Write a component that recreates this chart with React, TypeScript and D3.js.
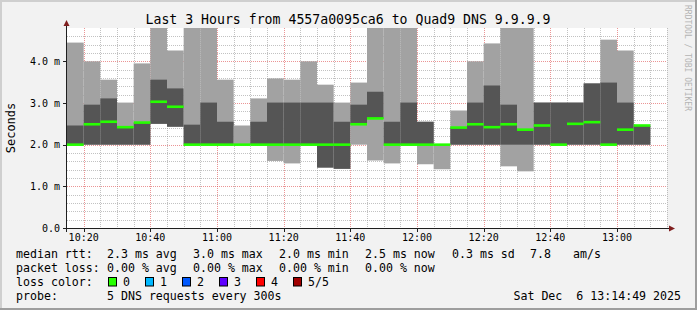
import React from 'react';
import * as d3 from 'd3';

// 5-minute bins, start times
const binStarts = [
  "10:15","10:20","10:25","10:30","10:35","10:40","10:45","10:50","10:55",
  "11:00","11:05","11:10","11:15","11:20","11:25","11:30","11:35","11:40",
  "11:45","11:50","11:55","12:00","12:05","12:10","12:15","12:20","12:25",
  "12:30","12:35","12:40","12:45","12:50","12:55","13:00","13:05"
];
// sorted pings (ms): fastest, 2nd, median, 4th, slowest
const pingMin = [2.0,2.0,2.0,2.0,2.0,2.50,2.43,2.0,2.0, 2.0,2.0,2.0,1.61,1.55,2.0,1.45,1.42,2.0, 1.62,1.55,2.0,1.53,1.41,2.0,2.0,2.0,1.48, 1.36,2.0,2.0,2.0,2.0,2.0,2.0,2.0];
const pingLow = [2.0,2.0,2.0,2.0,2.0,2.50,2.43,2.0,2.0, 2.0,2.0,2.0,2.0,2.0,2.0,1.45,1.42,2.49, 2.62,2.0,2.0,2.0,2.0,2.0,2.0,2.0,2.0, 2.0,2.0,2.0,2.0,2.0,2.0,2.0,2.0];
const pingMedian = [2.0,2.49,2.55,2.42,2.53,3.03,2.91,2.0,2.0, 2.0,2.0,2.0,2.0,2.0,2.0,2.0,2.0,2.49, 2.63,2.0,2.0,2.0,2.0,2.41,2.49,2.42,2.49, 2.36,2.46,2.0,2.50,2.54,2.0,2.36,2.46];
const pingHigh = [2.46,2.96,3.11,2.40,2.53,3.56,3.35,2.48,3.01, 2.55,2.0,2.55,3.01,3.01,3.01,3.01,2.55,2.96, 3.27,2.55,3.01,2.55,2.0,2.41,3.01,3.42,2.96, 2.36,3.01,3.01,3.01,3.47,3.49,3.01,2.46];
const pingMax = [4.45,4.0,3.56,3.01,3.95,5.2,4.26,5.2,5.2, 3.56,2.46,3.11,3.59,3.56,4.0,3.44,3.01,3.49, 5.2,5.2,5.2,2.55,2.0,2.82,4.0,4.43,5.2, 5.2,3.01,3.01,3.01,3.47,4.52,4.26,2.46];

const yTickValues = [0, 1, 2, 3, 4];
const yTickLabels = ["0.0", "1.0 m", "2.0 m", "3.0 m", "4.0 m"];
const xTickLabels = ["10:20","10:40","11:00","11:20","11:40","12:00","12:20","12:40","13:00"];

const titleText = "Last 3 Hours from 4557a0095ca6 to Quad9 DNS 9.9.9.9";
const yAxisTitle = "Seconds";
const rttHeader = "median rtt:";
const rttItems = ["2.3 ms avg", "3.0 ms max", "2.0 ms min", "2.5 ms now", "0.3 ms sd", "7.8", "am/s"];
const lossHeader = "packet loss:";
const lossItems = ["0.00 % avg", "0.00 % max", "0.00 % min", "0.00 % now"];
const colorHeader = "loss color:";
const lossLabels = ["0", "1", "2", "3", "4", "5/5"];
const lossColors = ["#26ff00", "#00b8ff", "#0059ff", "#5e00ff", "#ff0000", "#a00000"];
const probeHeader = "probe:";
const probeText = "5 DNS requests every 300s";
const dateLabel = "Sat Dec  6 13:14:49 2025";
const watermark = "RRDTOOL / TOBI OETIKER";

const W = 697, H = 310;
const MONO = "'DejaVu Sans Mono', monospace";
const rttX = [107, 193, 279, 365, 452, 530, 573];

const parseT = (s: string) => {
  const [h, m] = s.split(":").map(Number);
  return new Date(2025, 11, 6, h, m, 0);
};

export default function App() {
  const t0 = parseT("10:15");
  const t1 = parseT("13:15");
  const x = d3.scaleTime().domain([t0, t1]).range([67, 667]);
  const y = d3.scaleLinear().domain([0, 4.8]).range([228, 28]);

  const minorX = d3.timeMinute.every(5)!.range(d3.timeMinute.offset(t0, 5), d3.timeMinute.offset(t1, 1));
  const majorX = xTickLabels.map(parseT);
  const minorY = d3.range(1, 24).map((i) => i * 0.2).filter((v) => Math.abs(v - Math.round(v)) > 1e-6);
  const crisp = (v: number) => Math.round(v) + 0.5;

  const binW = (t: Date) => x(d3.timeMinute.offset(t, 5)) - x(t);
  const pre = { whiteSpace: 'pre' as const };

  return (
    <svg width={W} height={H} style={{ position: 'absolute', left: 0, top: 0 }} xmlns="http://www.w3.org/2000/svg">
      <defs>
        <clipPath id="plot">
          <rect x={67} y={28} width={600} height={200} />
        </clipPath>
      </defs>
      <rect x={0} y={0} width={W} height={H} fill="#f2f2f2" />
      {/* shade frame */}
      <rect x={0} y={0} width={W} height={2} fill="#cfcfcf" />
      <rect x={0} y={0} width={2} height={H} fill="#cfcfcf" />
      <rect x={0} y={H - 2} width={W} height={2} fill="#9e9e9e" />
      <rect x={W - 2} y={0} width={2} height={H} fill="#9e9e9e" />

      {/* canvas */}
      <rect x={67} y={28} width={600} height={200} fill="#ffffff" />

      {/* minor grid */}
      <g stroke="rgba(143,143,143,0.55)" strokeWidth={1} strokeDasharray="1,1">
        {minorX.filter((t) => t.getMinutes() % 20 !== 0).map((t, i) => (
          <line key={'mx' + i} x1={crisp(x(t))} x2={crisp(x(t))} y1={28} y2={228} />
        ))}
        {minorY.map((v, i) => (
          <line key={'my' + i} x1={67} x2={667} y1={crisp(y(v))} y2={crisp(y(v))} />
        ))}
      </g>
      {/* major grid */}
      <g stroke="rgba(222,79,79,0.6)" strokeWidth={1} strokeDasharray="1,1">
        {majorX.map((t, i) => (
          <line key={'Mx' + i} x1={crisp(x(t))} x2={crisp(x(t))} y1={28} y2={228} />
        ))}
        {yTickValues.filter((v) => v > 0).map((v, i) => (
          <line key={'My' + i} x1={67} x2={667} y1={crisp(y(v))} y2={crisp(y(v))} />
        ))}
      </g>

      {/* smoke */}
      <g clipPath="url(#plot)">
        {binStarts.map((s, i) => {
          const t = parseT(s);
          const bx = x(t);
          const w = binW(t);
          return (
            <g key={'b' + i}>
              {pingMax[i] > pingMin[i] && (
                <rect x={bx} y={y(pingMax[i])} width={w} height={y(pingMin[i]) - y(pingMax[i])} fill="#a2a2a2" />
              )}
              {pingHigh[i] > pingLow[i] && (
                <rect x={bx} y={y(pingHigh[i])} width={w} height={y(pingLow[i]) - y(pingHigh[i])} fill="#555555" />
              )}
            </g>
          );
        })}
        {binStarts.map((s, i) => {
          const t = parseT(s);
          return (
            <rect key={'m' + i} x={x(t)} y={y(pingMedian[i]) - 1.3} width={binW(t)} height={2.6} fill={lossColors[0]} />
          );
        })}
      </g>

      {/* axes */}
      <g stroke="#1f1f1f" strokeWidth={1}>
        <line x1={63} x2={670} y1={228.5} y2={228.5} />
        <line x1={66.5} x2={66.5} y1={232} y2={24} />
        {majorX.map((t, i) => (
          <line key={'xt' + i} x1={crisp(x(t))} x2={crisp(x(t))} y1={228} y2={232} />
        ))}
        {yTickValues.map((v, i) => (
          <line key={'yt' + i} x1={63} x2={67} y1={crisp(y(v))} y2={crisp(y(v))} />
        ))}
      </g>
      <path d="M63.5,26 L66.5,20 L69.5,26 Z" fill="#801f1f" />
      <path d="M669,225.5 L675,228.5 L669,231.5 Z" fill="#801f1f" />

      {/* tick labels */}
      <g fontFamily={MONO} fontSize={10} fill="#000">
        {yTickValues.map((v, i) => (
          <text key={'yl' + i} x={60} y={y(v) + 3.5} textAnchor="end">{yTickLabels[i]}</text>
        ))}
        {majorX.map((t, i) => (
          <text key={'xl' + i} x={x(t)} y={241} textAnchor="middle">{xTickLabels[i]}</text>
        ))}
      </g>

      {/* title */}
      <text x={348} y={24} textAnchor="middle" fontFamily={MONO} fontSize={13.2} fill="#000">{titleText}</text>
      <text transform="translate(15,128) rotate(-90)" textAnchor="middle" fontFamily={MONO} fontSize={12} fill="#000">{yAxisTitle}</text>

      {/* watermark */}
      <text transform="translate(685,5) rotate(90)" fontFamily={MONO} fontSize={8} fill="#b4b4b4">{watermark}</text>

      {/* legend */}
      <g fontFamily={MONO} fontSize={11.6} fill="#000">
        <text x={16} y={258}>{rttHeader}</text>
        {rttItems.map((s, i) => (
          <text key={'r' + i} x={rttX[i]} y={258} xmlSpace="preserve" style={pre}>{s}</text>
        ))}
        <text x={16} y={272}>{lossHeader}</text>
        {lossItems.map((s, i) => (
          <text key={'l' + i} x={rttX[i]} y={272} xmlSpace="preserve" style={pre}>{s}</text>
        ))}
        <text x={16} y={286}>{colorHeader}</text>
        {lossLabels.map((l, i) => (
          <g key={'lc' + i}>
            <rect x={108.5 + i * 37} y={277.5} width={8} height={8.5} fill={lossColors[i]} stroke="#000" strokeWidth={1} />
            <text x={123 + i * 37} y={286}>{l}</text>
          </g>
        ))}
        <text x={16} y={300}>{probeHeader}</text>
        <text x={107} y={300} xmlSpace="preserve" style={pre}>{probeText}</text>
        <text x={681} y={300} textAnchor="end" xmlSpace="preserve" style={pre}>{dateLabel}</text>
      </g>
    </svg>
  );
}
